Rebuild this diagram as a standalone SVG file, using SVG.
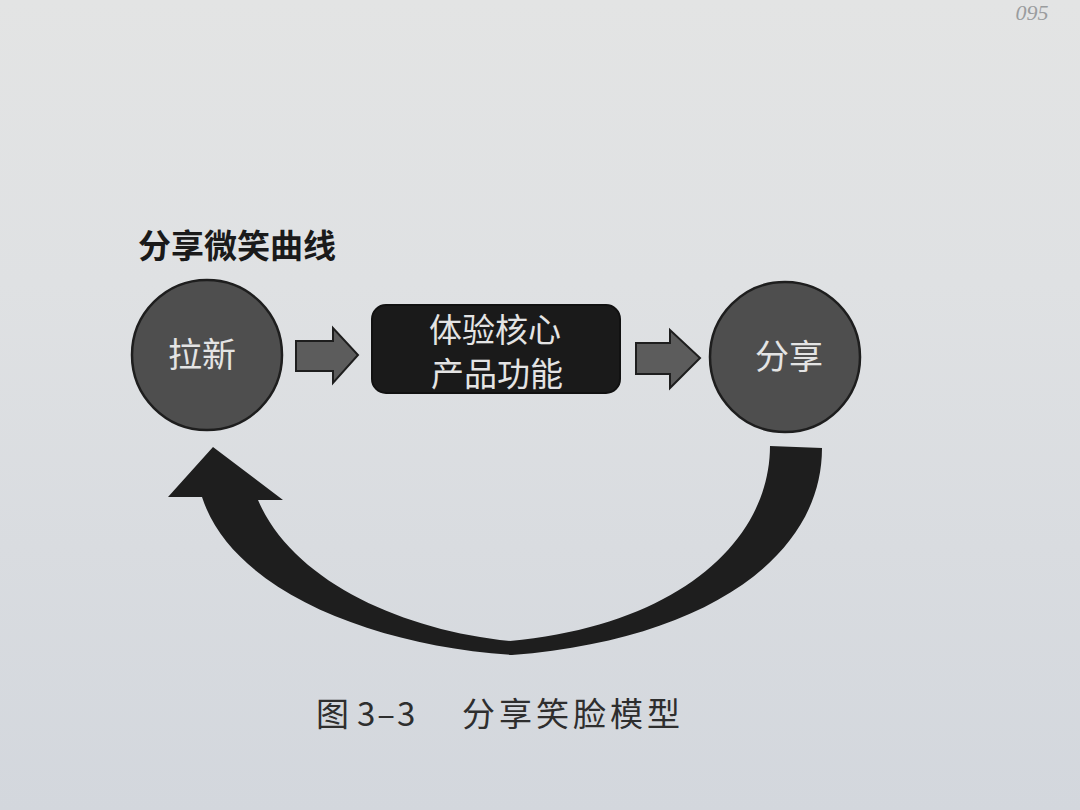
<svg xmlns="http://www.w3.org/2000/svg" width="1080" height="810" viewBox="0 0 1080 810">
  <defs>
    <linearGradient id="bg" x1="0" y1="0" x2="0" y2="1">
      <stop offset="0" stop-color="#e3e4e4"/>
      <stop offset="0.35" stop-color="#dfe1e3"/>
      <stop offset="1" stop-color="#d3d7dd"/>
    </linearGradient>
    <style>
      .cjk { font-family: "Noto Sans CJK SC", "Noto Sans", sans-serif; }
      .circle { fill: #4e4e4e; stroke: #1e1e1e; stroke-width: 2.5; }
      .node-label { fill: #e4e4e4; font-size: 34px; text-anchor: middle; }
      .block { fill: #5c5c5c; stroke: #1e1e1e; stroke-width: 2; stroke-linejoin: miter; }
      .smile { fill: #1e1e1e; }
    </style>
  </defs>
  <rect x="0" y="0" width="1080" height="810" fill="url(#bg)"/>

  <text x="1032" y="20" font-family="Liberation Serif, serif" font-size="22" font-style="italic" fill="#9a9c9e" text-anchor="middle">095</text>

  <text id="title" class="cjk" x="138" y="258" font-size="33" font-weight="bold" fill="#1a1a1a">分享微笑曲线</text>

  <g id="node-laxin">
    <circle class="circle" cx="207" cy="355" r="75"/>
    <text class="cjk node-label" x="202" y="367">拉新</text>
  </g>

  <g id="node-core">
    <rect x="372" y="305" width="248" height="88" rx="14" fill="#1a1a1a" stroke="#111" stroke-width="2"/>
    <text class="cjk node-label" x="495" y="342" style="font-size:33px" fill="#f0f0f0">体验核心</text>
    <text class="cjk node-label" x="497" y="386" style="font-size:33px" fill="#f0f0f0">产品功能</text>
  </g>

  <g id="node-share">
    <circle class="circle" cx="785" cy="357" r="75"/>
    <text class="cjk node-label" x="789" y="369">分享</text>
  </g>

  <g id="connectors">
    <polygon class="block" points="296,341 333,341 333,328 358,355 333,383 333,371 296,371"/>
    <polygon class="block" points="636,343 670,343 670,330 700,358 670,388 670,374 636,374"/>
    <path class="smile" d="M 822 448 C 822 560 700 640 512 655 C 370 645 232 590 202 497 L 168 497 L 213 447 L 283 500 L 258 500 C 292 580 400 630 510 641 C 680 625 770 540 770 446 Z"/>
  </g>

  <text id="caption" class="cjk" y="726" font-size="33" fill="#2e2e2e"><tspan x="316">图</tspan><tspan x="357" letter-spacing="2">3–3</tspan><tspan x="462" letter-spacing="4">分享笑脸模型</tspan></text>
</svg>
